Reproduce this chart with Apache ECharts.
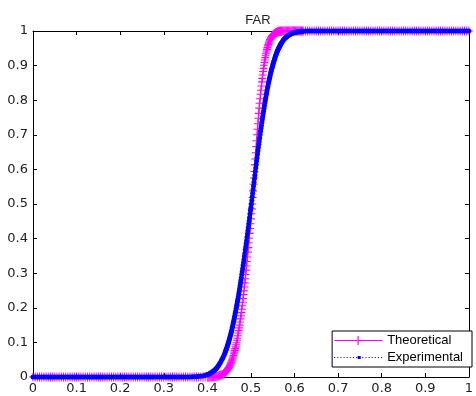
<!DOCTYPE html>
<html>
<head>
<meta charset="utf-8">
<script src="https://cdn.jsdelivr.net/npm/echarts@6/dist/echarts.min.js"></script>
<style>
  html, body { margin: 0; padding: 0; background: #fff; }
  #main { width: 476px; height: 396px; }
</style>
</head>
<body>
<div id="main"></div>
<script>
  // x samples: 0.005 on the flat parts, 0.002 / 0.001 through the transition
  const xs = [
    0, 0.005, 0.01, 0.015, 0.02, 0.025, 0.03, 0.035, 0.04, 0.045,
    0.05, 0.055, 0.06, 0.065, 0.07, 0.075, 0.08, 0.085, 0.09, 0.095,
    0.1, 0.105, 0.11, 0.115, 0.12, 0.125, 0.13, 0.135, 0.14, 0.145,
    0.15, 0.155, 0.16, 0.165, 0.17, 0.175, 0.18, 0.185, 0.19, 0.195,
    0.2, 0.205, 0.21, 0.215, 0.22, 0.225, 0.23, 0.235, 0.24, 0.245,
    0.25, 0.255, 0.26, 0.265, 0.27, 0.275, 0.28, 0.285, 0.29, 0.295,
    0.3, 0.305, 0.31, 0.315, 0.32, 0.325, 0.33, 0.335, 0.34, 0.345,
    0.35, 0.355, 0.36, 0.365, 0.37, 0.375, 0.38, 0.385, 0.39, 0.395,
    0.4, 0.402, 0.404, 0.406, 0.408, 0.41, 0.412, 0.414, 0.416, 0.418,
    0.42, 0.422, 0.424, 0.426, 0.428, 0.43, 0.432, 0.434, 0.436, 0.438,
    0.44, 0.441, 0.442, 0.443, 0.444, 0.445, 0.446, 0.447, 0.448, 0.449,
    0.45, 0.451, 0.452, 0.453, 0.454, 0.455, 0.456, 0.457, 0.458, 0.459,
    0.46, 0.461, 0.462, 0.463, 0.464, 0.465, 0.466, 0.467, 0.468, 0.469,
    0.47, 0.471, 0.472, 0.473, 0.474, 0.475, 0.476, 0.477, 0.478, 0.479,
    0.48, 0.481, 0.482, 0.483, 0.484, 0.485, 0.486, 0.487, 0.488, 0.489,
    0.49, 0.491, 0.492, 0.493, 0.494, 0.495, 0.496, 0.497, 0.498, 0.499,
    0.5, 0.501, 0.502, 0.503, 0.504, 0.505, 0.506, 0.507, 0.508, 0.509,
    0.51, 0.511, 0.512, 0.513, 0.514, 0.515, 0.516, 0.517, 0.518, 0.519,
    0.52, 0.521, 0.522, 0.523, 0.524, 0.525, 0.526, 0.527, 0.528, 0.529,
    0.53, 0.531, 0.532, 0.533, 0.534, 0.535, 0.536, 0.537, 0.538, 0.539,
    0.54, 0.541, 0.542, 0.543, 0.544, 0.545, 0.546, 0.547, 0.548, 0.549,
    0.55, 0.551, 0.552, 0.553, 0.554, 0.555, 0.556, 0.557, 0.558, 0.559,
    0.56, 0.561, 0.562, 0.563, 0.564, 0.565, 0.566, 0.567, 0.568, 0.569,
    0.57,
    0.572, 0.574, 0.576, 0.578, 0.58, 0.582, 0.584, 0.586, 0.588, 0.59,
    0.592, 0.594, 0.596, 0.598, 0.6, 0.602, 0.604, 0.606, 0.608, 0.61,
    0.612, 0.614, 0.616, 0.618, 0.62,
    0.625, 0.63, 0.635, 0.64, 0.645, 0.65, 0.655, 0.66, 0.665, 0.67,
    0.675, 0.68, 0.685, 0.69, 0.695, 0.7, 0.705, 0.71, 0.715, 0.72,
    0.725, 0.73, 0.735, 0.74, 0.745, 0.75, 0.755, 0.76, 0.765, 0.77,
    0.775, 0.78, 0.785, 0.79, 0.795, 0.8, 0.805, 0.81, 0.815, 0.82,
    0.825, 0.83, 0.835, 0.84, 0.845, 0.85, 0.855, 0.86, 0.865, 0.87,
    0.875, 0.88, 0.885, 0.89, 0.895, 0.9, 0.905, 0.91, 0.915, 0.92,
    0.925, 0.93, 0.935, 0.94, 0.945, 0.95, 0.955, 0.96, 0.965, 0.97,
    0.975, 0.98, 0.985, 0.99, 0.995, 1
  ]

  const theoretical = [
    0, 0, 0, 0, 0, 0, 0, 0, 0, 0,
    0, 0, 0, 0, 0, 0, 0, 0, 0, 0,
    0, 0, 0, 0, 0, 0, 0, 0, 0, 0,
    0, 0, 0, 0, 0, 0, 0, 0, 0, 0,
    0, 0, 0, 0, 0, 0, 0, 0, 0, 0,
    0, 0, 0, 0, 0, 0, 0, 0, 0, 0,
    0, 0, 0, 0, 0, 0, 0, 0, 0, 0,
    0, 0, 0, 0, 0, 0, 0, 0, 0, 0,
    0, 0, 0, 0, 0, 0, 0.001, 0.001, 0.001, 0.001,
    0.002, 0.002, 0.002, 0.003, 0.004, 0.005, 0.006, 0.007, 0.008, 0.010,
    0.012, 0.013, 0.015, 0.016, 0.018, 0.019, 0.021, 0.023, 0.025, 0.027,
    0.029, 0.032, 0.034, 0.037, 0.040, 0.043, 0.047, 0.050, 0.054, 0.058,
    0.062, 0.067, 0.072, 0.077, 0.082, 0.087, 0.093, 0.099, 0.106, 0.112,
    0.119, 0.127, 0.134, 0.142, 0.150, 0.159, 0.168, 0.177, 0.186, 0.196,
    0.206, 0.216, 0.227, 0.238, 0.249, 0.260, 0.272, 0.284, 0.296, 0.309,
    0.321, 0.334, 0.347, 0.361, 0.374, 0.388, 0.401, 0.415, 0.429, 0.443,
    0.457, 0.472, 0.486, 0.500, 0.519, 0.538, 0.557, 0.575, 0.594, 0.613,
    0.630, 0.648, 0.666, 0.683, 0.700, 0.716, 0.732, 0.748, 0.762, 0.777,
    0.791, 0.804, 0.817, 0.829, 0.841, 0.853, 0.863, 0.873, 0.883, 0.892,
    0.901, 0.909, 0.916, 0.923, 0.930, 0.936, 0.942, 0.947, 0.952, 0.957,
    0.961, 0.965, 0.968, 0.972, 0.975, 0.977, 0.980, 0.982, 0.984, 0.986,
    0.987, 0.989, 0.990, 0.991, 0.992, 0.993, 0.994, 0.995, 0.996, 0.996,
    0.997, 0.997, 0.998, 0.998, 0.998, 0.999, 0.999, 0.999, 0.999, 0.999,
    0.999,
    1, 1, 1, 1, 1, 1, 1, 1, 1, 1,
    1, 1, 1, 1, 1, 1, 1, 1, 1, 1,
    1, 1, 1, 1, 1,
    1, 1, 1, 1, 1, 1, 1, 1, 1, 1,
    1, 1, 1, 1, 1, 1, 1, 1, 1, 1,
    1, 1, 1, 1, 1, 1, 1, 1, 1, 1,
    1, 1, 1, 1, 1, 1, 1, 1, 1, 1,
    1, 1, 1, 1, 1, 1, 1, 1, 1, 1,
    1, 1, 1, 1, 1, 1, 1, 1, 1, 1,
    1, 1, 1, 1, 1, 1, 1, 1, 1, 1,
    1, 1, 1, 1, 1, 1
  ]

  const experimental = [
    0, 0, 0, 0, 0, 0, 0, 0, 0, 0,
    0, 0, 0, 0, 0, 0, 0, 0, 0, 0,
    0, 0, 0, 0, 0, 0, 0, 0, 0, 0,
    0, 0, 0, 0, 0, 0, 0, 0, 0, 0,
    0, 0, 0, 0, 0, 0, 0, 0, 0, 0,
    0, 0, 0, 0, 0, 0, 0, 0, 0, 0,
    0, 0, 0, 0, 0, 0, 0, 0, 0, 0,
    0, 0, 0, 0.001, 0.001, 0.001, 0.002, 0.002, 0.003, 0.005,
    0.007, 0.008, 0.009, 0.010, 0.012, 0.013, 0.015, 0.017, 0.019, 0.022,
    0.024, 0.027, 0.030, 0.034, 0.038, 0.042, 0.047, 0.052, 0.056, 0.062,
    0.068, 0.072, 0.075, 0.079, 0.082, 0.086, 0.090, 0.094, 0.098, 0.102,
    0.107, 0.111, 0.116, 0.121, 0.126, 0.131, 0.136, 0.142, 0.147, 0.153,
    0.159, 0.165, 0.171, 0.177, 0.184, 0.190, 0.197, 0.204, 0.210, 0.218,
    0.225, 0.232, 0.240, 0.247, 0.255, 0.263, 0.271, 0.279, 0.287, 0.296,
    0.304, 0.313, 0.322, 0.330, 0.339, 0.348, 0.357, 0.367, 0.376, 0.385,
    0.394, 0.404, 0.413, 0.423, 0.432, 0.442, 0.451, 0.461, 0.471, 0.481,
    0.490, 0.500, 0.510, 0.521, 0.531, 0.542, 0.552, 0.563, 0.573, 0.583,
    0.594, 0.604, 0.614, 0.624, 0.634, 0.644, 0.654, 0.663, 0.673, 0.682,
    0.691, 0.701, 0.710, 0.719, 0.727, 0.736, 0.745, 0.753, 0.761, 0.769,
    0.777, 0.785, 0.793, 0.800, 0.807, 0.815, 0.821, 0.828, 0.835, 0.841,
    0.848, 0.854, 0.860, 0.865, 0.871, 0.877, 0.882, 0.887, 0.892, 0.897,
    0.901, 0.906, 0.910, 0.914, 0.918, 0.922, 0.926, 0.930, 0.933, 0.937,
    0.940, 0.943, 0.946, 0.949, 0.951, 0.954, 0.956, 0.959, 0.961, 0.963,
    0.965,
    0.969, 0.973, 0.976, 0.979, 0.981, 0.983, 0.986, 0.987, 0.989, 0.990,
    0.992, 0.993, 0.994, 0.995, 0.995, 0.996, 0.997, 0.997, 0.998, 0.998,
    0.998, 0.999, 0.999, 0.999, 0.999,
    1, 1, 1, 1, 1, 1, 1, 1, 1, 1,
    1, 1, 1, 1, 1, 1, 1, 1, 1, 1,
    1, 1, 1, 1, 1, 1, 1, 1, 1, 1,
    1, 1, 1, 1, 1, 1, 1, 1, 1, 1,
    1, 1, 1, 1, 1, 1, 1, 1, 1, 1,
    1, 1, 1, 1, 1, 1, 1, 1, 1, 1,
    1, 1, 1, 1, 1, 1, 1, 1, 1, 1,
    1, 1, 1, 1, 1, 1
  ]

  const tickLabels = ['0', '0.1', '0.2', '0.3', '0.4', '0.5', '0.6', '0.7', '0.8', '0.9', '1']

  const plusSymbol = 'path://M4.4,0 H5.6 V4.4 H10 V5.6 H5.6 V10 H4.4 V5.6 H0 V4.4 H4.4 Z'
  // legend samples, drawn in a 48 x 10 box: line with a plus / dotted line with a dot
  const plusLegend = 'path://M0,4.5 H48 V5.5 H0 Z M23.4,0.5 H24.6 V9.5 H23.4 Z M20,4.4 H28 V5.6 H20 Z'
  let dotted = ''
  for (let k = 0; k <= 45; k += 3) dotted += 'M' + k + ',4.5 h1 v1 h-1 Z '
  const dotLegend = 'path://' + dotted + 'M22.5,3.5 h3 v3 h-3 Z'

  const font = '"Liberation Sans", Arial, sans-serif'
  const tickFont = '"DejaVu Sans", sans-serif'

  const chart = echarts.init(document.getElementById('main'))

  const mainAxis = {
    type: 'value',
    min: 0,
    max: 1,
    interval: 0.1,
    axisLine: { show: true, onZero: false, lineStyle: { color: '#000', width: 1 } },
    axisTick: { show: true, inside: true, length: 4, lineStyle: { color: '#000' } },
    splitLine: { show: false },
    axisLabel: {
      color: '#222',
      fontSize: 13,
      fontFamily: tickFont,
      margin: 5,
      formatter: (v) => tickLabels[Math.round(v * 10)]
    }
  }
  const mirrorAxis = Object.assign({}, mainAxis, { axisLabel: { show: false } })

  const option = {
    animation: false,
    title: {
      text: 'FAR',
      left: 253,
      textAlign: 'center',
      top: 9,
      textStyle: { fontSize: 13, fontWeight: 'normal', color: '#222', fontFamily: font }
    },
    grid: { left: 33, right: 2, top: 31, bottom: 19 },
    xAxis: [
      Object.assign({}, mainAxis, { position: 'bottom' }),
      Object.assign({}, mirrorAxis, { position: 'top' })
    ],
    yAxis: [
      Object.assign({}, mainAxis, { position: 'left' }),
      Object.assign({}, mirrorAxis, { position: 'right' })
    ],
    legend: {
      orient: 'vertical',
      right: 4,
      bottom: 29,
      itemWidth: 48,
      itemHeight: 10,
      itemGap: 4,
      padding: [3, 9, 3, 2],
      backgroundColor: '#fff',
      borderColor: '#000',
      borderWidth: 1,
      borderRadius: 0,
      textStyle: { fontSize: 13, color: '#000', fontFamily: font },
      data: [
        { name: 'Theoretical', icon: plusLegend },
        { name: 'Experimental', icon: dotLegend }
      ]
    },
    series: [
      {
        name: 'Theoretical',
        type: 'line',
        data: xs.map((x, i) => [x, theoretical[i]]),
        symbol: plusSymbol,
        symbolSize: [8, 9],
        showSymbol: true,
        itemStyle: { color: '#ff00ff' },
        lineStyle: { color: '#ff00ff', width: 1 },
        clip: true
      },
      {
        name: 'Experimental',
        type: 'line',
        data: xs.map((x, i) => [x, experimental[i]]),
        symbol: 'circle',
        symbolSize: 5,
        showSymbol: true,
        itemStyle: { color: '#0000ff' },
        lineStyle: { color: '#0000ff', width: 1, type: 'dotted' },
        clip: true
      }
    ]
  }

  chart.setOption(option)
</script>
</body>
</html>
